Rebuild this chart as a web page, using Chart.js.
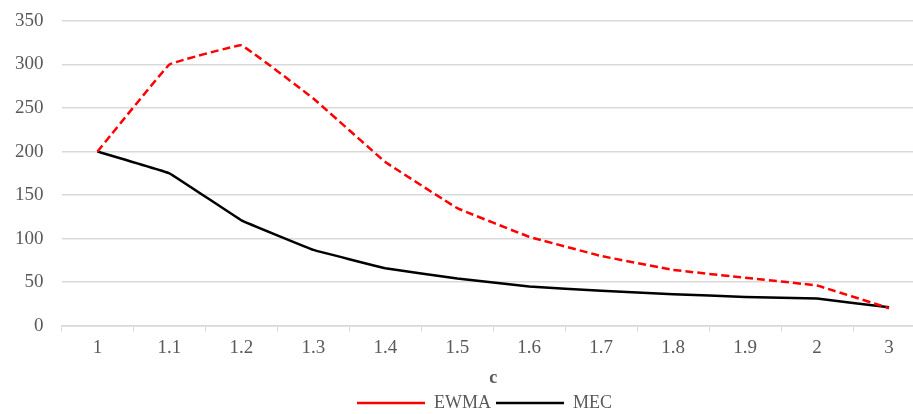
<!DOCTYPE html>
<html>
<head>
<meta charset="utf-8">
<script src="https://cdn.jsdelivr.net/npm/chart.js@4/dist/chart.umd.min.js"></script>
<style>
  html, body { margin: 0; padding: 0; background: #fff; overflow: hidden; }
  #wrap { width: 960px; height: 414px; }
</style>
</head>
<body>
<div id="wrap"><canvas id="lineChart"></canvas></div>
<script>
// x categories (c)
const cLabels = ['1', '1.1', '1.2', '1.3', '1.4', '1.5', '1.6', '1.7', '1.8', '1.9', '2', '3'];
// series values
const ewmaValues = [200, 300, 322, 261, 188, 135, 102, 80, 64, 55, 46, 20];
const mecValues = [200, 175, 121, 87, 66, 54, 45, 40, 36, 33, 31, 21];

const tickFont = { family: 'Liberation Serif', size: 19 };

// legend sits centred under the plot, a bit right of the canvas centre
const legendShift = {
  id: 'legendShift',
  afterLayout(chart) {
    if (chart.legend) {
      chart.legend.left += 33;
    }
  }
};

const ctx = document.getElementById('lineChart').getContext('2d');
new Chart(ctx, {
  type: 'line',
  data: {
    labels: cLabels,
    datasets: [
      {
        label: 'EWMA',
        data: ewmaValues,
        borderColor: '#ff0000',
        borderWidth: 2.5,
        borderDash: [8, 4],
        pointRadius: 0,
        pointStyle: 'line',
        tension: 0.05,
        fill: false,
      },
      {
        label: 'MEC',
        data: mecValues,
        borderColor: '#000000',
        borderWidth: 2.5,
        pointRadius: 0,
        pointStyle: 'line',
        tension: 0.05,
        fill: false,
      },
    ],
  },
  plugins: [legendShift],
  options: {
    responsive: true,
    maintainAspectRatio: false,
    animation: false,
    layout: { padding: { left: 11, right: 35, top: 21, bottom: -8 } },
    plugins: {
      legend: {
        position: 'bottom',
        labels: {
          usePointStyle: true,
          pointStyleWidth: 68,
          boxHeight: 18,
          padding: 5,
          color: '#595959',
          font: { family: 'Liberation Serif', size: 18 },
        },
      },
      tooltip: { enabled: false },
    },
    scales: {
      x: {
        offset: true,
        grid: {
          display: true,
          drawOnChartArea: false,
          drawTicks: true,
          tickLength: 6,
          color: '#d9d9d9',
          offset: true,
        },
        border: { color: '#d9d9d9', width: 1.5 },
        ticks: {
          color: '#595959',
          font: tickFont,
          maxRotation: 0,
          autoSkip: false,
          padding: 5,
        },
        title: {
          display: true,
          text: 'c',
          color: '#595959',
          font: { family: 'Liberation Serif', size: 18, weight: 'bold' },
          padding: { top: 3, bottom: 0 },
        },
      },
      y: {
        min: 0,
        max: 350,
        ticks: {
          stepSize: 50,
          color: '#595959',
          font: tickFont,
          padding: 4,
        },
        grid: {
          color: '#d9d9d9',
          lineWidth: 1.5,
          drawTicks: true,
          tickLength: 14,
          tickColor: 'rgba(0,0,0,0)',
        },
        border: { display: false },
      },
    },
  },
});
</script>
</body>
</html>
